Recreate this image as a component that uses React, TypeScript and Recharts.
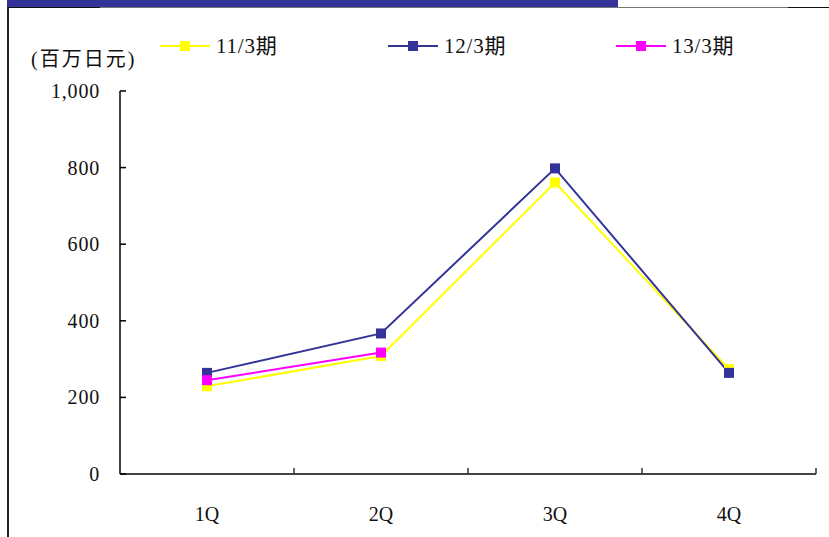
import React from 'react';
import { LineChart, Line, XAxis, YAxis, Legend } from 'recharts';

// Quarterly figures (百万日元) by fiscal year
const quarters = ['1Q', '2Q', '3Q', '4Q'];
const fy11: (number | null)[] = [229, 308, 761, 274];
const fy12: (number | null)[] = [264, 367, 798, 264];
const fy13: (number | null)[] = [245, 317, null, null];
const yTicks = [0, 200, 400, 600, 800, 1000];

const seriesNames = ['11/3期', '12/3期', '13/3期'];
const seriesColors = ['#FFFF00', '#333399', '#FF00FF'];

const data = quarters.map((q, i) => ({
  q,
  fy11: fy11[i],
  fy12: fy12[i],
  fy13: fy13[i],
}));

const FONT = "'Liberation Serif', 'Noto Sans CJK JP', serif";
const TICK = 6;
const Y_MARGIN = 14;
const X_MARGIN = 28;

const squareDot = (color: string) => (p: any) => {
  if (p.cx == null || p.cy == null || p.value == null) {
    return <g key={`e-${p.index}`} />;
  }
  return (
    <rect
      key={`d-${p.index}`}
      x={p.cx - 5}
      y={p.cy - 5}
      width={10}
      height={10}
      fill={color}
    />
  );
};

const YTick = (p: any) => {
  const axisX = p.x + TICK + Y_MARGIN;
  const v = p.payload.value as number;
  return (
    <g>
      <line x1={axisX} x2={axisX + TICK} y1={p.y} y2={p.y} stroke="#000" strokeWidth={1.5} />
      <text x={p.x} y={p.y + 7} textAnchor="end" fontFamily={FONT} fontSize={20} fill="#111" letterSpacing={0.8}>
        {v.toLocaleString('en-US')}
      </text>
    </g>
  );
};

const XTick = (p: any) => {
  const axisY = p.y - TICK - X_MARGIN;
  const half = p.payload.offset || 87;
  return (
    <g>
      <line x1={p.x + half} x2={p.x + half} y1={axisY} y2={axisY - TICK} stroke="#333" strokeWidth={1.5} />
      <text x={p.x} y={p.y + 13} textAnchor="middle" fontFamily={FONT} fontSize={20} fill="#111">
        {p.payload.value}
      </text>
    </g>
  );
};

const LegendContent = (props: any) => {
  const items = props.payload || [];
  return (
    <svg width={829} height={70} style={{ display: 'block' }}>
      {items.map((it: any, i: number) => {
        const x0 = 160 + i * 228;
        return (
          <g key={it.value}>
            <line x1={x0} x2={x0 + 50} y1={46} y2={46} stroke={it.color} strokeWidth={2} />
            <rect x={x0 + 20} y={41} width={10} height={10} fill={it.color} />
            <text x={x0 + 56} y={53} fontFamily={FONT} fontSize={21} fill="#111" letterSpacing={0.8}>
              {it.value}
            </text>
          </g>
        );
      })}
    </svg>
  );
};

export default function App() {
  return (
    <div style={{ position: 'absolute', left: 0, top: 0, width: 829, height: 537, background: '#fff', overflow: 'hidden' }}>
      <div style={{ position: 'absolute', left: 7, top: 0, width: 611, height: 7, background: '#333399' }} />
      <div style={{ position: 'absolute', left: 8, top: 7, width: 821, height: 1, background: '#777' }} />
      <div style={{ position: 'absolute', left: 8, top: 7, width: 92, height: 1, background: '#111' }} />
      <div style={{ position: 'absolute', left: 788, top: 7, width: 41, height: 1, background: '#111' }} />
      <div style={{ position: 'absolute', left: 7, top: 7, width: 2, height: 530, background: '#222' }} />
      <div style={{ position: 'absolute', left: 0, top: 0 }}>
        <LineChart width={829} height={537} data={data} margin={{ top: 91, right: 13, bottom: 0, left: 0 }}>
          <XAxis
            dataKey="q"
            scale="band"
            height={63}
            axisLine={{ stroke: '#444', strokeWidth: 2 }}
            tickLine={false}
            tickSize={TICK}
            tickMargin={X_MARGIN}
            tick={<XTick />}
          />
          <YAxis
            width={120}
            domain={[0, 1000]}
            ticks={yTicks}
            axisLine={{ stroke: '#000', strokeWidth: 1.5 }}
            tickLine={false}
            tickSize={TICK}
            tickMargin={Y_MARGIN}
            tick={<YTick />}
            label={{
              value: '(百万日元)',
              content: (lp: any) => (
                <text
                  x={(lp.viewBox?.x ?? 0) + 31}
                  y={(lp.viewBox?.y ?? 91) - 25}
                  fontFamily={FONT}
                  fontSize={20}
                  fill="#111"
                  letterSpacing={2}
                >
                  (百万日元)
                </text>
              ),
            }}
          />
          <Legend
            layout="horizontal"
            verticalAlign="middle"
            align="center"
            wrapperStyle={{ top: 0, left: 0, width: 829, height: 70 }}
            content={<LegendContent />}
          />
          <Line
            dataKey="fy11"
            name={seriesNames[0]}
            stroke={seriesColors[0]}
            strokeWidth={2}
            dot={squareDot(seriesColors[0])}
            activeDot={false}
            isAnimationActive={false}
          />
          <Line
            dataKey="fy12"
            name={seriesNames[1]}
            stroke={seriesColors[1]}
            strokeWidth={2}
            dot={squareDot(seriesColors[1])}
            activeDot={false}
            isAnimationActive={false}
          />
          <Line
            dataKey="fy13"
            name={seriesNames[2]}
            stroke={seriesColors[2]}
            strokeWidth={2}
            dot={squareDot(seriesColors[2])}
            activeDot={false}
            isAnimationActive={false}
          />
        </LineChart>
      </div>
    </div>
  );
}
